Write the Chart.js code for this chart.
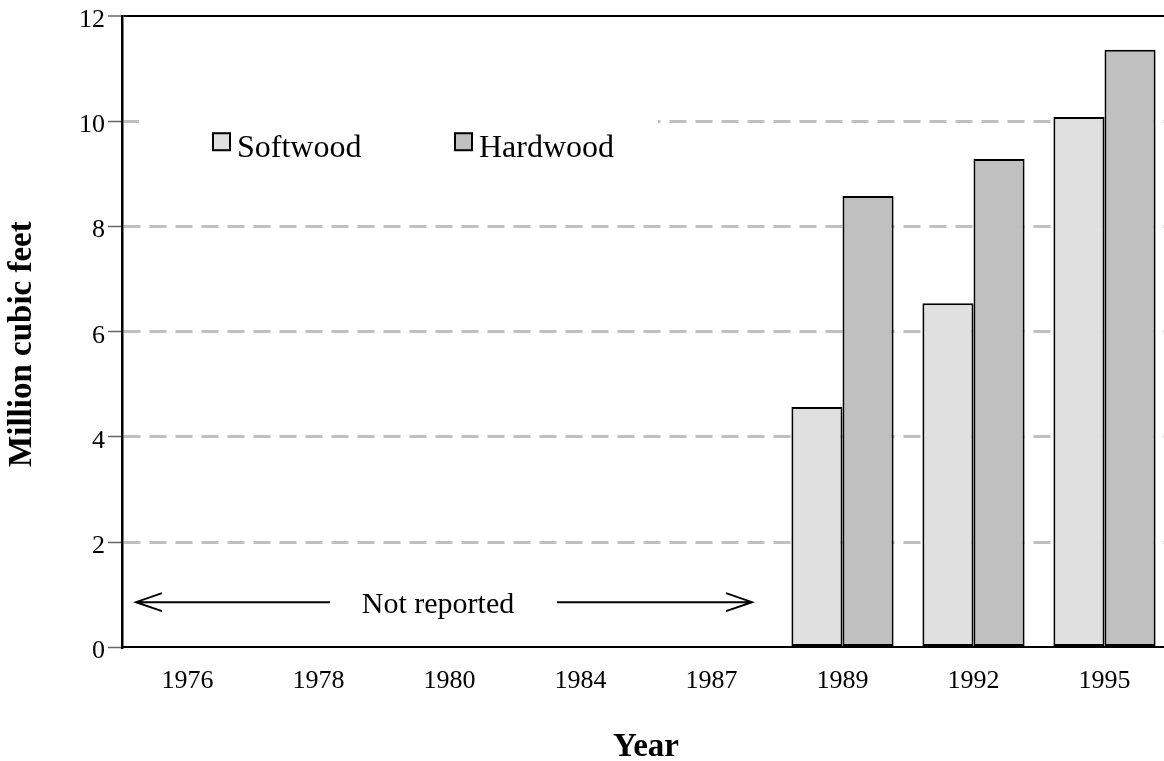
<!DOCTYPE html>
<html>
<head>
<meta charset="utf-8">
<script src="https://cdn.jsdelivr.net/npm/chart.js@4/dist/chart.umd.min.js"></script>
<style>
  html, body { margin: 0; padding: 0; overflow: hidden; background: #fff; }
  canvas { position: absolute; left: 0; top: 0; }
</style>
</head>
<body>
<canvas id="woodChart" width="1172" height="761"></canvas>
<script>
// Chart data
const years = ['1976', '1978', '1980', '1984', '1987', '1989', '1992', '1995'];
const softwood = [null, null, null, null, null, 4.57, 6.54, 10.08];
const hardwood = [null, null, null, null, null, 8.58, 9.28, 11.36];
const yTicks = [0, 2, 4, 6, 8, 10, 12];

const serif = "'Liberation Serif', 'Times New Roman', serif";
const softColor = '#e0e0e0';
const hardColor = '#c0c0c0';

// Legend box drawn inside the plot, over the 10 gridline
const insideLegend = {
    id: 'insideLegend',
    afterDatasetsDraw(chart) {
        const ctx = chart.ctx;
        const area = chart.chartArea;
        const y10 = chart.scales.y.getPixelForValue(10);
        ctx.save();
        ctx.fillStyle = '#fff';
        ctx.fillRect(area.left + 17, y10 - 15, 519, 70);

        const items = [
            { label: 'Softwood', color: softColor, x: area.left + 91 },
            { label: 'Hardwood', color: hardColor, x: area.left + 333 }
        ];
        const boxTop = y10 + 12;
        items.forEach(item => {
            ctx.fillStyle = item.color;
            ctx.strokeStyle = '#000';
            ctx.lineWidth = 2;
            ctx.fillRect(item.x, boxTop, 17, 17);
            ctx.strokeRect(item.x, boxTop, 17, 17);
            ctx.fillStyle = '#000';
            ctx.font = '32px ' + serif;
            ctx.textBaseline = 'alphabetic';
            ctx.textAlign = 'left';
            ctx.fillText(item.label, item.x + 24, boxTop + 24);
        });
        ctx.restore();
    }
};

// "Not reported" note with arrows for the years without data
const notReported = {
    id: 'notReported',
    afterDatasetsDraw(chart) {
        const ctx = chart.ctx;
        const area = chart.chartArea;
        const y = chart.scales.y.getPixelForValue(0.86);
        const leftTip = area.left + 14;
        const leftEnd = area.left + 208;
        const rightStart = area.left + 435;
        const rightTip = area.left + 630;
        ctx.save();
        ctx.strokeStyle = '#000';
        ctx.lineWidth = 2;
        ctx.beginPath();
        ctx.moveTo(leftTip, y);
        ctx.lineTo(leftEnd, y);
        ctx.moveTo(leftTip + 26, y - 9);
        ctx.lineTo(leftTip, y);
        ctx.lineTo(leftTip + 26, y + 9);
        ctx.moveTo(rightStart, y);
        ctx.lineTo(rightTip, y);
        ctx.moveTo(rightTip - 26, y - 9);
        ctx.lineTo(rightTip, y);
        ctx.lineTo(rightTip - 26, y + 9);
        ctx.stroke();
        ctx.fillStyle = '#000';
        ctx.font = '30px ' + serif;
        ctx.textAlign = 'center';
        ctx.textBaseline = 'middle';
        ctx.fillText('Not reported', area.left + 316, y + 3);
        ctx.restore();
    }
};

const ctx = document.getElementById('woodChart').getContext('2d');
new Chart(ctx, {
    type: 'bar',
    data: {
        labels: years,
        datasets: [
            {
                label: 'Softwood',
                data: softwood,
                backgroundColor: softColor,
                borderColor: '#000',
                borderWidth: 2,
                borderSkipped: false
            },
            {
                label: 'Hardwood',
                data: hardwood,
                backgroundColor: hardColor,
                borderColor: '#000',
                borderWidth: 2,
                borderSkipped: false
            }
        ]
    },
    options: {
        responsive: false,
        animation: false,
        layout: {
            padding: { top: 2, right: 2, left: 6, bottom: 0 }
        },
        datasets: {
            bar: {
                categoryPercentage: 0.78,
                barPercentage: 1.0
            }
        },
        scales: {
            x: {
                grid: { display: false, drawTicks: false },
                border: { display: true, color: '#000', width: 2 },
                ticks: {
                    color: '#000',
                    padding: 18,
                    font: { family: serif, size: 26 }
                },
                title: {
                    display: true,
                    text: 'Year',
                    color: '#000',
                    padding: { top: 20, bottom: 0 },
                    font: { family: serif, size: 33, weight: 'bold', lineHeight: 0.8 }
                }
            },
            y: {
                min: 0,
                max: 12,
                afterBuildTicks(axis) {
                    axis.ticks = yTicks.map(v => ({ value: v }));
                },
                grid: {
                    color: c => (c.tick && c.tick.value === 12) ? '#000' :
                                (c.tick && c.tick.value === 0) ? 'rgba(0,0,0,0)' : '#c0c0c0',
                    lineWidth: c => (c.tick && c.tick.value === 12) ? 2 : 3,
                    tickColor: '#666',
                    tickLength: 14,
                    tickWidth: 1.5
                },
                border: {
                    display: true,
                    color: '#000',
                    width: 2.5,
                    dash: c => (c.tick && c.tick.value === 12) ? [] : [17, 9]
                },
                ticks: {
                    color: '#000',
                    padding: 3,
                    labelOffset: 4,
                    font: { family: serif, size: 26, lineHeight: 1.0 }
                },
                title: {
                    display: true,
                    text: 'Million cubic feet   ',
                    color: '#000',
                    padding: { top: 0, bottom: 37 },
                    font: { family: serif, size: 33, weight: 'bold', lineHeight: 1.0 }
                }
            }
        },
        plugins: {
            legend: { display: false },
            tooltip: { enabled: false }
        }
    },
    plugins: [insideLegend, notReported]
});
</script>
</body>
</html>
